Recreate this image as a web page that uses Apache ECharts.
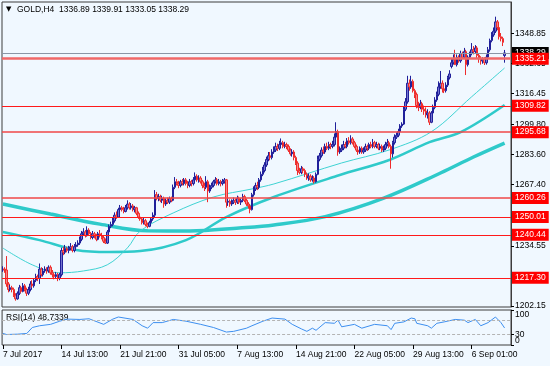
<!DOCTYPE html>
<html>
<head>
<meta charset="utf-8">
<script src="https://cdn.jsdelivr.net/npm/echarts@6/dist/echarts.min.js"></script>
<style>
  html, body { margin: 0; padding: 0; background: #f0f8ff; }
  #chart { width: 550px; height: 366px; }
</style>
</head>
<body>
<div id="chart"></div>
<script>
// GOLD H4, 7 Jul 2017 05:00 .. 11 Sep 2017 01:00 (one value per bar)
const closes = [
  1222,1221.5,1214,1211,1212,1211,1208,1206,1209,1212,
  1210,1213,1211,1209,1211,1214,1213,1216,1218,1217,
  1222,1219,1221,1222,1221,1223,1220,1219,1218,1219,
  1217,1219,1232,1231,1233,1232,1233,1234,1232,1234,
  1235,1236,1238,1241,1242,1240,1243,1241,1239,1241,
  1240,1238,1241,1240,1239,1237,1236,1242,1245,1246,
  1248,1251,1250,1254,1255,1254,1253,1255,1257,1255,
  1256,1254,1255,1252,1250,1249,1247,1248,1246,1245,
  1247,1249,1251,1262,1260,1261,1259,1260,1257,1259,
  1258,1260,1259,1266,1269,1268,1267,1269,1268,1270,
  1268,1267,1269,1268,1270,1272,1270,1271,1269,1267,
  1266,1269,1264,1266,1267,1269,1270,1268,1269,1268,
  1269,1270,1258,1258.5,1257,1258,1259,1258,1260,1258,
  1259,1261,1259,1257,1256,1254,1262,1265,1267,1266,
  1270,1273,1275,1278,1281,1283,1282,1285,1286,1288,
  1287,1289,1290,1288,1289,1288,1286,1284,1285,1282,
  1279,1275,1274,1276,1275,1273,1271,1272,1270,1271,
  1269,1273,1281,1283,1286,1285,1288,1287,1289,1288,
  1289,1293,1296,1285,1286,1287,1289,1288,1291,1290,
  1292,1290,1288,1286,1285,1287,1285,1286,1288,1287,
  1289,1288,1290,1288,1289,1287,1288,1286,1287,1289,
  1290,1288,1284,1290,1293,1294,1296,1299,1300,1308,
  1312,1322,1320,1323,1318,1316,1310,1309,1311,1308,
  1307,1305,1306,1301,1306,1309,1313,1316,1320,1322,
  1319,1318,1321,1325,1327,1333,1335,1332,1336,1334,
  1338,1336,1339,1332,1336,1338,1340,1339,1341,1337,
  1335,1334,1335,1333,1336,1340,1345,1348,1350,1355,
  1352,1347,1346,1344,1338.29
];
const highs = [
  1223.5,1223,1229,1215,1213.5,1213,1212,1209,1210,1213.5,
  1213,1214.5,1214,1212,1212.5,1215.5,1216,1217,1219.5,1219,
  1225,1223,1222.5,1223.5,1223,1224,1224,1221.5,1220,1220.5,
  1220,1220,1233.5,1234,1235,1234,1234.5,1236,1235,1235.5,
  1236.5,1237.5,1239.5,1242.5,1244,1243,1245,1244,1242,1242.5,
  1242,1241,1242,1243,1241.5,1240,1238.5,1243,1246,1247.5,
  1249.5,1252.5,1253,1255,1256.5,1256,1255.5,1256.5,1259,1258,
  1257.5,1257,1256,1255.5,1253,1251.5,1250,1249.5,1249,1247,
  1248,1250,1252.5,1264.5,1263.5,1262.5,1262,1261.5,1261,1260,
  1260.5,1261,1261,1267.5,1271.5,1270.5,1269.5,1270,1270.5,1271,
  1271,1269.5,1270.5,1270,1271.5,1274,1273,1272.5,1272,1270,
  1268.5,1272,1270,1267.5,1268.5,1270,1271.5,1271,1270.5,1270,
  1270.5,1271,1270.5,1260,1259.5,1259.5,1260.5,1260,1261.5,1261,
  1260,1262.5,1262,1260,1258,1257,1263,1266.5,1268.5,1269,
  1271,1274.5,1277,1279.5,1282.5,1285,1285,1286.5,1288,1290,
  1289.5,1291,1292.3,1291,1290.5,1290,1289,1287,1286.5,1286,
  1283,1280,1276.5,1277.5,1277,1276,1274,1273.5,1273,1272.5,
  1272,1274,1283,1284.5,1287.5,1288,1289.5,1290,1290.5,1290,
  1291,1295,1301,1297,1288,1289,1291,1290.5,1292.5,1293,
  1294,1293,1291,1289,1287.5,1288,1288,1287.5,1289.5,1289,
  1290,1290.5,1292,1291,1290.5,1290,1289.5,1289,1288.5,1290.5,
  1292,1291,1289,1291,1294.5,1295.5,1297.5,1300,1301,1309.5,
  1314,1326,1324,1326,1324,1319,1317,1312,1313,1312,
  1310,1309,1308,1307,1307,1310.5,1314.5,1317.5,1323,1328.6,
  1323.5,1321,1322.5,1326,1329,1335,1337.5,1340,1337.5,1337,
  1339.5,1339,1341,1340,1337,1339,1343.6,1342,1342.5,1342,
  1338,1336.5,1336,1336,1337.5,1341.5,1346,1349.5,1352,1357.8,
  1356,1353,1349,1347,1339.91
];
const lows = [
  1220.5,1220,1212.5,1209.5,1210,1209.5,1207,1205,1205.5,1208,
  1209,1209.5,1210,1207.5,1208,1210,1212,1212,1215,1215.5,
  1214,1218,1218,1220,1219.5,1220,1219,1217.5,1216.5,1217,
  1215.5,1216,1218,1229.5,1230,1231,1230.5,1232,1231,1231,
  1233,1234,1235,1237,1240,1239,1239.5,1240,1238,1238,
  1238.5,1237,1237.5,1239,1238,1236,1235.5,1235.5,1241,1244,
  1245,1247,1249,1249.5,1253,1253,1252,1252.5,1254,1254,
  1254,1253,1252.5,1251,1249,1248,1246,1246,1245,1244,
  1244.5,1246,1248,1250,1259,1258.5,1258,1257.5,1255,1256,
  1257,1257,1258,1258.5,1265,1267,1265.5,1266,1267,1267,
  1267,1265.5,1266,1266.5,1267,1269.5,1269,1268.5,1268,1265.5,
  1264,1265,1258,1263,1265,1266,1268,1267,1267,1266.5,
  1267,1268,1255,1256,1255.5,1256,1257,1256.5,1257,1257,
  1256.5,1258,1258,1256,1254.5,1252,1253.5,1261,1264,1264.5,
  1265,1269,1272,1274,1277,1280,1280.5,1281,1284,1285,
  1285.5,1286,1288,1287,1287,1286.5,1285,1283,1282.5,1280.5,
  1278,1272.6,1273,1273,1273.5,1271.5,1270,1269.5,1269,1269,
  1268,1268.5,1272.5,1280,1282,1284,1284,1286,1286,1286.5,
  1287,1288,1292,1283,1284,1285,1286,1287,1287,1289,
  1289,1289,1287,1285,1283.5,1284,1284,1284,1285,1285.5,
  1286,1287,1287,1287,1287,1286,1286,1285,1285,1286,
  1288,1287,1276,1282,1289,1292,1293,1295,1298,1299.5,
  1307,1311,1318,1319,1317,1314,1308.5,1307,1308,1306.5,
  1305,1303.5,1303,1299.5,1300.5,1305,1308,1312,1315,1319,
  1317,1316.7,1317,1320,1324,1330,1332,1331.8,1331,1333,
  1333,1335,1335,1326.4,1331,1335,1337,1337.5,1338,1335.5,
  1333,1332,1332.5,1331.8,1332,1335,1339,1344,1347,1349,
  1350.5,1345.5,1344.5,1342,1333.05
];
// bars whose open is not the previous close (first bar, weekend gaps)
const gapOpens = { 0: 1221.5, 245: 1331, 274: 1336.89 };

// moving averages at these bars
const maFastIdx = [0, 16, 31, 44, 57, 68, 75, 93, 115, 136, 148, 185, 211, 234, 256, 274];
const maFastVal = [1233.3, 1224.3, 1220, 1221, 1224.3, 1233.4, 1242.5, 1252.2, 1260.8, 1265.1, 1267.8, 1279.1, 1286.1, 1295.9, 1314.7, 1330.2];
const maMidIdx = [0, 20, 40, 58, 75, 100, 122, 148, 184, 211, 233, 250, 274];
const maMidVal = [1242, 1237.6, 1232.3, 1231.2, 1231.7, 1237.6, 1250, 1260.8, 1272.6, 1280.7, 1290.3, 1295.7, 1310.3];
const maSlowIdx = [0, 26, 53, 79, 102, 129, 148, 176, 208, 239, 257, 274];
const maSlowVal = [1257, 1251.6, 1246.2, 1242.6, 1242.5, 1244.1, 1245.7, 1250.2, 1260.2, 1273.7, 1282.3, 1289.8];

// RSI(14)
const rsiIdx = [0,2,8,13,16,20,26,31,32,35,42,47,55,60,63,71,76,79,82,87,93,100,108,115,122,126,133,136,142,147,
  154,158,163,166,169,171,176,181,183,185,192,196,203,210,212,214,219,223,225,226,232,234,237,241,247,252,254,258,261,265,269,272,274];
const rsiVal = [33,30,31,33,50,55,59,68,72,74,73,75,59,74,80,73,55,48,64,64,73,68,59,50,37,39,48,55,68,77,
  74,59,46,39,48,42,64,62,71,52,59,48,59,55,44,62,66,77,75,62,55,48,62,66,73,71,64,73,55,64,80,64,48.7339];

const tickIdx = [0, 32, 64, 96, 128, 160, 192, 224, 256];
const tickLabels = ['7 Jul 2017', '14 Jul 13:00', '21 Jul 21:00', '31 Jul 05:00', '7 Aug 13:00',
  '14 Aug 21:00', '22 Aug 05:00', '29 Aug 13:00', '6 Sep 01:00'];
const priceTicks = [1348.85, 1332.65, 1316.45, 1299.80, 1283.60, 1267.40, 1234.55, 1202.15];
const rsiTicksUpper = [30, 70, 100];
const rsiTicksLower = [0];
const levels = [1335.21, 1309.82, 1295.68, 1260.26, 1250.01, 1240.44, 1217.30];
const lastPrice = 1338.29;

const FONT = 'Liberation Sans';
const nSlots = 278; // 275 bars + empty shift on the right
const cats = Array.from({ length: nSlots }, (_, i) => String(i));

const candles = closes.map((c, i) => {
  const o = gapOpens[i] !== undefined ? gapOpens[i] : closes[i - 1];
  return [o, c, Math.min(lows[i], o, c), Math.max(highs[i], o, c)];
});
const pairs = (idx, vals) => idx.map((k, j) => [k, vals[j]]);

const levelStyle = {
  1335.21: { color: '#f06868', width: 2.5 },
  1295.68: { color: '#f04848', width: 1.5 },
  1260.26: { color: '#f04848', width: 1.5 }
};

const rsiAxisBase = {
  type: 'value', gridIndex: 1, position: 'right', min: 0, max: 100,
  splitLine: { show: false }
};

const chart = echarts.init(document.getElementById('chart'));
chart.setOption({
  animation: false,
  backgroundColor: '#f0f8ff',
  textStyle: { fontFamily: FONT },
  grid: [
    { left: 2, top: 2, width: 509, height: 305, show: true, borderColor: '#3c3c3c', borderWidth: 1 },
    { left: 2, top: 310, width: 509, height: 35, show: true, borderColor: '#3c3c3c', borderWidth: 1 }
  ],
  xAxis: [
    {
      type: 'category', gridIndex: 0, data: cats,
      axisLine: { show: false }, axisTick: { show: false }, axisLabel: { show: false }, splitLine: { show: false }
    },
    {
      type: 'category', gridIndex: 1, data: cats,
      axisLine: { show: false },
      axisTick: {
        show: true, alignWithLabel: true, length: 4, lineStyle: { color: '#000' },
        interval: (i) => tickIdx.indexOf(i) >= 0
      },
      axisLabel: {
        interval: (i) => tickIdx.indexOf(i) >= 0,
        formatter: (v, i) => { const k = tickIdx.indexOf(i); return k >= 0 ? tickLabels[k] : ''; },
        align: 'left', fontSize: 8.5, color: '#000', margin: 5, fontFamily: FONT
      }
    }
  ],
  yAxis: [
    {
      type: 'value', gridIndex: 0, position: 'right', min: 1201.6, max: 1365.7, scale: true,
      axisLine: { show: true, lineStyle: { color: '#3c3c3c' } },
      axisTick: { show: true, length: 3, customValues: priceTicks, lineStyle: { color: '#000' } },
      axisLabel: {
        customValues: priceTicks, formatter: (v) => v.toFixed(2),
        showMinLabel: true, showMaxLabel: true,
        fontSize: 8.5, color: '#000', margin: 4, fontFamily: FONT
      },
      splitLine: { show: false }
    },
    Object.assign({}, rsiAxisBase, {
      axisLine: { show: true, lineStyle: { color: '#3c3c3c' } },
      axisTick: { show: true, length: 3, customValues: rsiTicksUpper, lineStyle: { color: '#000' } },
      axisLabel: {
        customValues: rsiTicksUpper,
        showMinLabel: true, showMaxLabel: true, hideOverlap: false,
        formatter: (v) => v === 100 ? '{dn|100}' : String(v),
        rich: { dn: { padding: [9, 0, 0, 0], fontSize: 8.5, fontFamily: FONT, color: '#000' } },
        fontSize: 8.5, color: '#000', margin: 4, fontFamily: FONT
      }
    }),
    Object.assign({}, rsiAxisBase, {
      axisLine: { show: false },
      axisTick: { show: true, length: 3, customValues: rsiTicksLower, lineStyle: { color: '#000' } },
      axisLabel: {
        customValues: rsiTicksLower,
        showMinLabel: true, showMaxLabel: true, hideOverlap: false,
        verticalAlign: 'bottom',
        fontSize: 8.5, color: '#000', margin: 4, fontFamily: FONT
      }
    })
  ],
  series: [
    {
      name: 'MA slow', type: 'line', xAxisIndex: 0, yAxisIndex: 0, data: pairs(maSlowIdx, maSlowVal),
      showSymbol: false, smooth: 0.35, lineStyle: { color: '#2fcaca', width: 3.5 }, z: 1
    },
    {
      name: 'MA mid', type: 'line', xAxisIndex: 0, yAxisIndex: 0, data: pairs(maMidIdx, maMidVal),
      showSymbol: false, smooth: 0.35, lineStyle: { color: '#2fcaca', width: 2.5 }, z: 1
    },
    {
      name: 'MA fast', type: 'line', xAxisIndex: 0, yAxisIndex: 0, data: pairs(maFastIdx, maFastVal),
      showSymbol: false, smooth: 0.35, lineStyle: { color: '#3fd3d3', width: 1 }, z: 1
    },
    {
      name: 'GOLD', type: 'candlestick', xAxisIndex: 0, yAxisIndex: 0, data: candles,
      barWidth: 2,
      itemStyle: {
        color: '#7474cf', color0: '#f48686',
        borderColor: '#20209a', borderColor0: '#ee2c2c', borderWidth: 1
      },
      markLine: {
        silent: true, symbol: 'none', animation: false,
        label: {
          show: true, position: 'end', distance: 1, formatter: (p) => p.value.toFixed(2),
          color: '#fff', backgroundColor: '#ff0000', padding: [2, 3, 1, 3],
          fontSize: 8.5, fontFamily: FONT
        },
        data: [{
          yAxis: lastPrice,
          lineStyle: { color: '#8a96a6', width: 1, type: 'solid' },
          label: { backgroundColor: '#000' }
        }].concat(levels.map((v) => ({
          yAxis: v,
          lineStyle: Object.assign({ color: '#ff1a1a', width: 1, type: 'solid' }, levelStyle[v] || {})
        })))
      },
      z: 3
    },
    {
      name: 'RSI(14)', type: 'line', xAxisIndex: 1, yAxisIndex: 1, data: pairs(rsiIdx, rsiVal),
      showSymbol: false, lineStyle: { color: '#3d8ff0', width: 1 },
      markLine: {
        silent: true, symbol: 'none', label: { show: false },
        lineStyle: { color: '#b4b4b4', type: [3, 2], width: 1 },
        data: [{ yAxis: 70 }, { yAxis: 30 }]
      }
    }
  ],
  graphic: [
    { type: 'text', left: 6, top: 6, style: { text: '▼', fontSize: 7, fill: '#000', fontFamily: 'DejaVu Sans' } },
    { type: 'text', left: 17, top: 5, style: { text: 'GOLD,H4  1336.89 1339.91 1333.05 1338.29', fontSize: 8.5, fill: '#000', fontFamily: FONT } },
    { type: 'text', left: 6, top: 313, style: { text: 'RSI(14) 48.7339', fontSize: 8.5, fill: '#000', fontFamily: FONT } }
  ]
});
</script>
</body>
</html>
